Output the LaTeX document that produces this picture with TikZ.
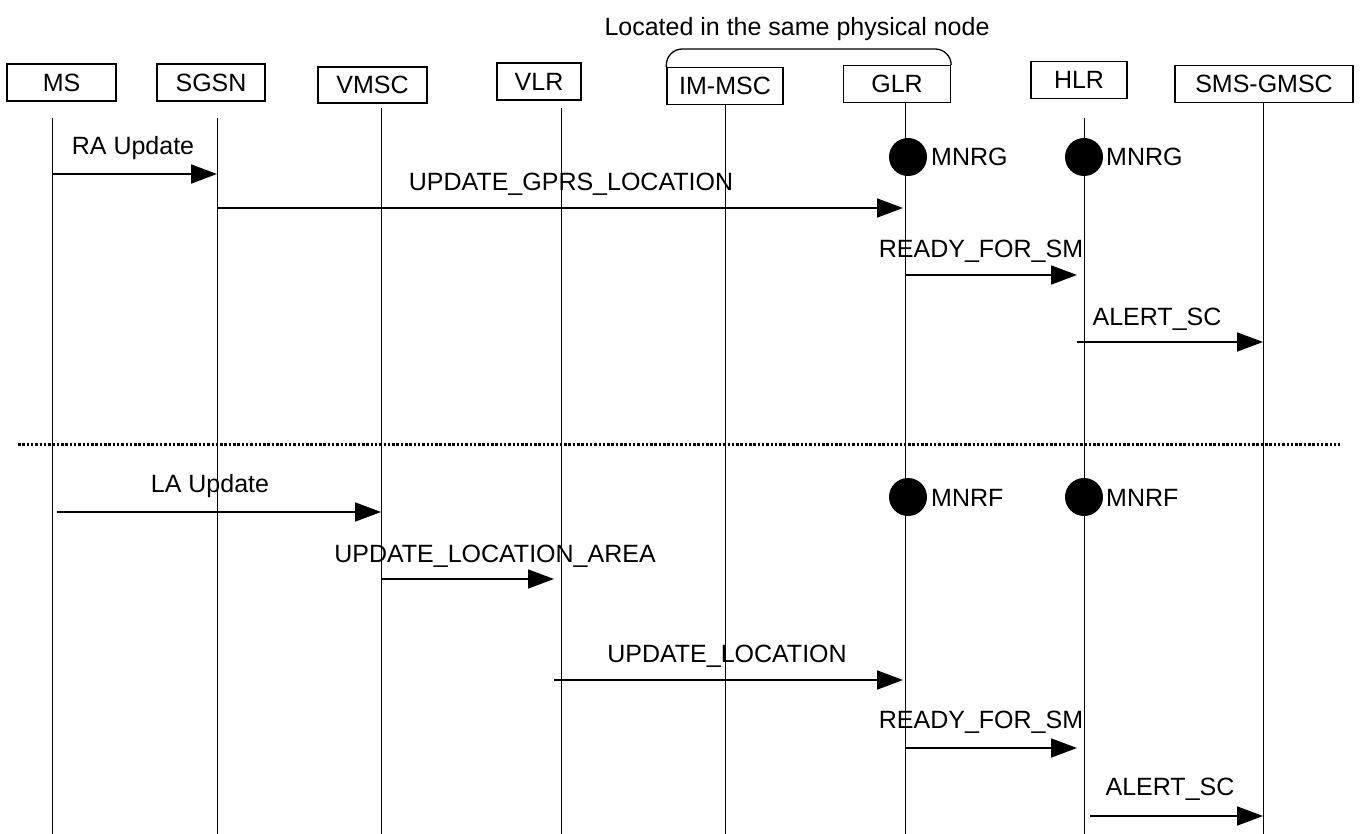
\documentclass[tikz,border=0pt]{standalone}
\usepackage{fontspec}
\setmainfont{Liberation Sans}
\usetikzlibrary{arrows.meta}
\begin{document}
\begin{tikzpicture}[x=1pt,y=-1pt,
  every node/.style={font=\fontsize{25}{30}\selectfont, inner sep=0pt},
  ent/.style={draw, line width=1.3pt},
  life/.style={line width=1pt},
  msg/.style={line width=1.8pt, -{Triangle[length=26pt,width=19pt]}},
  lbl/.style={anchor=base},
  dotmark/.style={circle, fill=black, minimum size=38pt},
  sep/.style={line width=3pt, dash pattern=on 2.5pt off 1.8pt},
  grp/.style={line width=1.3pt, rounded corners=16pt}
]
\useasboundingbox (0,0) rectangle (1364,834);
\fill[white] (0,0) rectangle (1364,834);

% entity boxes
\node[ent, minimum width=109pt, minimum height=37pt] (ms)   at (61.5,82.5) {MS};
\node[ent, minimum width=108pt, minimum height=37pt] (sgsn) at (211,82.5) {SGSN};
\node[ent, minimum width=109pt, minimum height=36pt] (vmsc) at (372.5,85) {VMSC};
\node[ent, minimum width=84pt, minimum height=37pt]  (vlr)  at (539,81.5) {VLR};
\node[ent, minimum width=116pt, minimum height=37pt] (imsc) at (725,86) {IM-MSC};
\node[ent, minimum width=107pt, minimum height=37pt] (glr)  at (897,84) {GLR};
\node[ent, minimum width=96pt, minimum height=37pt]  (hlr)  at (1079,80) {HLR};
\node[ent, minimum width=178pt, minimum height=37pt] (smsg) at (1264,84) {SMS-GMSC};

% group brace
\node[lbl] (loc) at (797,36) {Located in the same physical node};
\draw[grp] (imsc.north west) -- (imsc.north west |- 0,49) -- (glr.north east |- 0,49) -- (glr.north east);

% lifeline tops
\coordinate (lMS)   at (52,118);
\coordinate (lSGSN) at (217,118);
\coordinate (lVMSC) at (381,108);
\coordinate (lVLR)  at (561,108);
\coordinate (lIMSC) at (imsc.south -| 725,0);
\coordinate (lGLR)  at (glr.south -| 905,0);
\coordinate (lHLR)  at (1084,118);
\coordinate (lSMSG) at (smsg.south -| 1263,0);
\foreach \l in {lMS,lSGSN,lVMSC,lVLR,lIMSC,lGLR,lHLR,lSMSG}
  \draw[life] (\l) -- (\l |- 0,834);

% upper part (GPRS)
\node[lbl] (t1) at (133,155) {RA Update};
\draw[msg] (lMS |- 0,174) -- (lSGSN |- 0,174);
\node[lbl] (t2) at (571,191) {UPDATE\_GPRS\_LOCATION};
\draw[msg, shorten >=2pt] (lSGSN |- 0,208) -- (lGLR |- 0,208);
\node[dotmark] (g1) at (908,157) {};
\node[anchor=base west] (g1t) at (931,166) {MNRG};
\node[dotmark] (g2) at (1084,157) {};
\node[anchor=base west] (g2t) at (1106,166) {MNRG};
\node[lbl] (t3) at (981,258) {READY\_FOR\_SM};
\draw[msg, shorten >=7pt] (lGLR |- 0,275) -- (lHLR |- 0,275);
\node[lbl] (t4) at (1157,325) {ALERT\_SC};
\draw[msg] ([xshift=-7pt]lHLR |- 0,342) -- (lSMSG |- 0,342);

% separator
\coordinate (sepL) at (18,444);
\coordinate (sepR) at (1340,444);
\draw[sep] (sepL) -- (sepR);

% lower part (GSM)
\node[lbl] (t5) at (210,492) {LA Update};
\draw[msg] ([xshift=5pt]lMS |- 0,512) -- (lVMSC |- 0,512);
\node[dotmark] (f1) at (908,497) {};
\node[anchor=base west] (f1t) at (931,506) {MNRF};
\node[dotmark] (f2) at (1084,497) {};
\node[anchor=base west] (f2t) at (1106,506) {MNRF};
\node[lbl] (t6) at (495,562) {UPDATE\_LOCATION\_AREA};
\draw[msg, shorten >=7pt] (lVMSC |- 0,579) -- (lVLR |- 0,579);
\node[lbl] (t7) at (727,662) {UPDATE\_LOCATION};
\draw[msg, shorten >=2pt] ([xshift=-7pt]lVLR |- 0,680) -- (lGLR |- 0,680);
\node[lbl] (t8) at (981,728) {READY\_FOR\_SM};
\draw[msg, shorten >=7pt] (lGLR |- 0,748) -- (lHLR |- 0,748);
\node[lbl] (t9) at (1170,795) {ALERT\_SC};
\draw[msg] ([xshift=6pt]lHLR |- 0,816) -- (lSMSG |- 0,816);
\end{tikzpicture}
\end{document}
